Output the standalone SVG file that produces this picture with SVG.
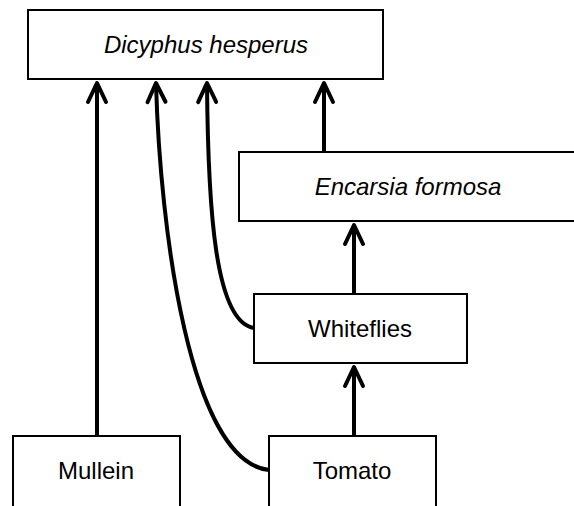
<svg xmlns="http://www.w3.org/2000/svg" width="574" height="506" viewBox="0 0 574 506">
<defs>
<style>
.box{fill:#fff;stroke:#000;stroke-width:2}
.lbl{font-family:"Liberation Sans",Arial,sans-serif;font-size:24px;fill:#000;text-anchor:middle}
.it{font-style:italic}
.edge{fill:none;stroke:#000;stroke-width:4;stroke-linecap:butt}
</style>
<marker id="arr" markerUnits="userSpaceOnUse" markerWidth="40" markerHeight="40" viewBox="-30 -15 40 30" refX="0" refY="0" orient="auto" overflow="visible">
<path d="M-19,-9 L0,0 L-19,9" fill="none" stroke="#000" stroke-width="4" stroke-linecap="round" stroke-linejoin="round"/>
</marker>
</defs>
<rect width="574" height="506" fill="#fff"/>
<g id="connectors">
<path class="edge" d="M97,436 L97,83" marker-end="url(#arr)"/>
<path class="edge" d="M269,470 C190,462 160,230 156,83" marker-end="url(#arr)"/>
<path class="edge" d="M254,328 C215,322 208,210 207,83" marker-end="url(#arr)"/>
<path class="edge" d="M324,152 L324,83" marker-end="url(#arr)"/>
<path class="edge" d="M354,294 L354,225" marker-end="url(#arr)"/>
<path class="edge" d="M354,436 L354,367" marker-end="url(#arr)"/>
</g>
<g id="dicyphus">
<rect class="box" x="28" y="10" width="355" height="69"/>
<text class="lbl it" x="206" y="53">Dicyphus hesperus</text>
</g>
<g id="encarsia">
<rect class="box" x="239" y="152" width="337" height="69"/>
<text class="lbl it" x="408" y="195">Encarsia formosa</text>
</g>
<g id="whiteflies">
<rect class="box" x="254" y="294" width="213" height="69"/>
<text class="lbl" x="360" y="337">Whiteflies</text>
</g>
<g id="mullein">
<rect class="box" x="13" y="436" width="167" height="72"/>
<text class="lbl" x="96" y="479">Mullein</text>
</g>
<g id="tomato">
<rect class="box" x="269" y="436" width="167" height="72"/>
<text class="lbl" x="352" y="479">Tomato</text>
</g>
</svg>
